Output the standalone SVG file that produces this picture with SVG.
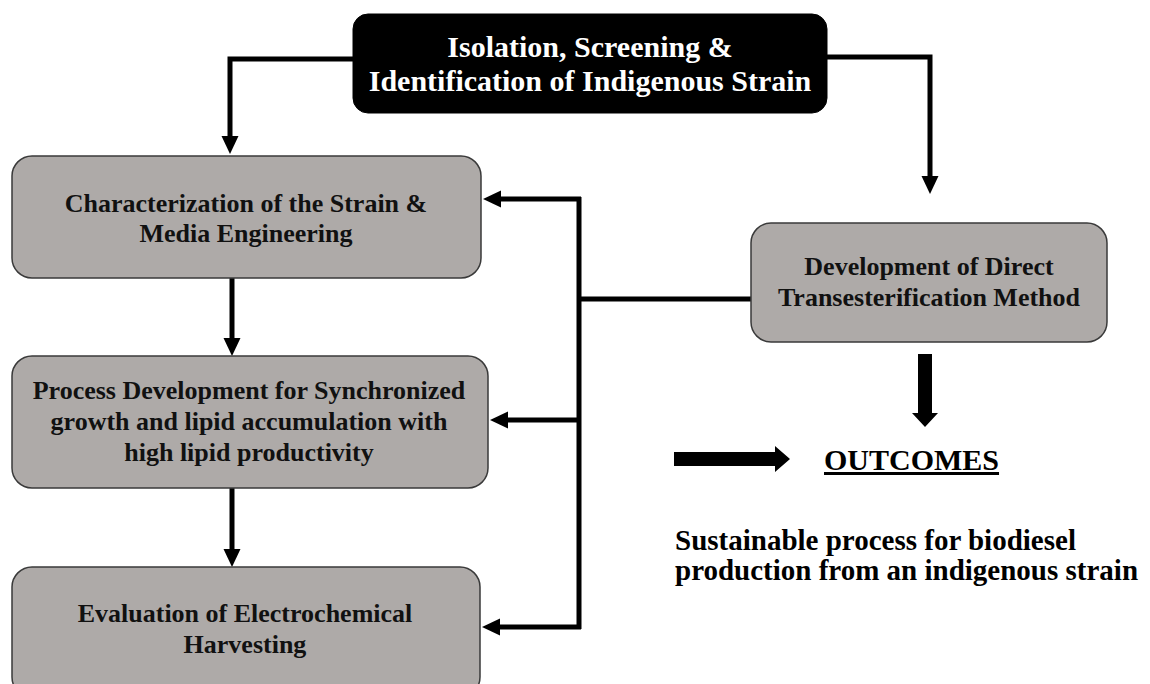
<svg xmlns="http://www.w3.org/2000/svg" width="1150" height="684" viewBox="0 0 1150 684">
<style>
.box{fill:#aeaaa8;stroke:#3a3a3a;stroke-width:1.5}
.top{fill:#000;stroke:#000}
.t{font-family:"Liberation Serif","Times New Roman",serif;font-weight:bold;text-anchor:middle}
.bt{font-size:26px;fill:#111}
.wt{font-size:30px;fill:#fff}
.ot{font-family:"Liberation Serif","Times New Roman",serif;font-weight:bold;fill:#000}
.ln{fill:none;stroke:#000;stroke-width:5}
.arr{marker-end:url(#ah)}
</style>
<defs>
<marker id="ah" markerUnits="userSpaceOnUse" markerWidth="18" markerHeight="17" refX="0" refY="8.5" orient="auto" overflow="visible">
<path d="M0,0 L18,8.5 L0,17 z" fill="#000"/>
</marker>
</defs>
<rect width="1150" height="684" fill="#fff"/>
<g id="connectors">
<path class="ln arr" d="M353,59 H230 V136"/>
<path class="ln arr" d="M827,57 H930 V176"/>
<path class="ln arr" d="M232,278 V338"/>
<path class="ln arr" d="M232,488 V549"/>
<path class="ln" d="M751,299 H579"/>
<path class="ln" d="M579,197 V629"/>
<path class="ln arr" d="M581,199 H501"/>
<path class="ln arr" d="M579,420 H508"/>
<path class="ln arr" d="M581,627 H500"/>
<polygon points="918,354 932,354 932,413 938,413 925,427 912,413 918,413" fill="#000"/>
<polygon points="674,452 775,452 775,446 790,459 775,472 775,466 674,466" fill="#000"/>
</g>
<g id="node-isolation">
<rect class="top" x="353" y="14" width="474" height="99" rx="15"/>
<text class="t wt" x="590" y="57">Isolation, Screening &amp;</text>
<text class="t wt" x="590" y="91">Identification of Indigenous Strain</text>
</g>
<g id="node-characterization">
<rect class="box" x="12" y="156" width="469" height="122" rx="20"/>
<text class="t bt" x="246" y="212">Characterization of the Strain &amp;</text>
<text class="t bt" x="246" y="242">Media Engineering</text>
</g>
<g id="node-process">
<rect class="box" x="12" y="356" width="476" height="132" rx="20"/>
<text class="t bt" x="249" y="399">Process Development for Synchronized</text>
<text class="t bt" x="249" y="430">growth and lipid accumulation with</text>
<text class="t bt" x="249" y="461">high lipid productivity</text>
</g>
<g id="node-evaluation">
<rect class="box" x="12" y="567" width="468" height="130" rx="20"/>
<text class="t bt" x="245" y="622">Evaluation of Electrochemical</text>
<text class="t bt" x="245" y="653">Harvesting</text>
</g>
<g id="node-transesterification">
<rect class="box" x="751" y="223" width="356" height="119" rx="20"/>
<text class="t bt" x="929" y="275">Development of Direct</text>
<text class="t bt" x="929" y="306">Transesterification Method</text>
</g>
<g id="node-outcomes">
<text class="ot" x="824" y="470" font-size="30" text-decoration="underline">OUTCOMES</text>
<text class="ot" x="675" y="550" font-size="29">Sustainable process for biodiesel</text>
<text class="ot" x="675" y="580" font-size="29">production from an indigenous strain</text>
</g>
</svg>
